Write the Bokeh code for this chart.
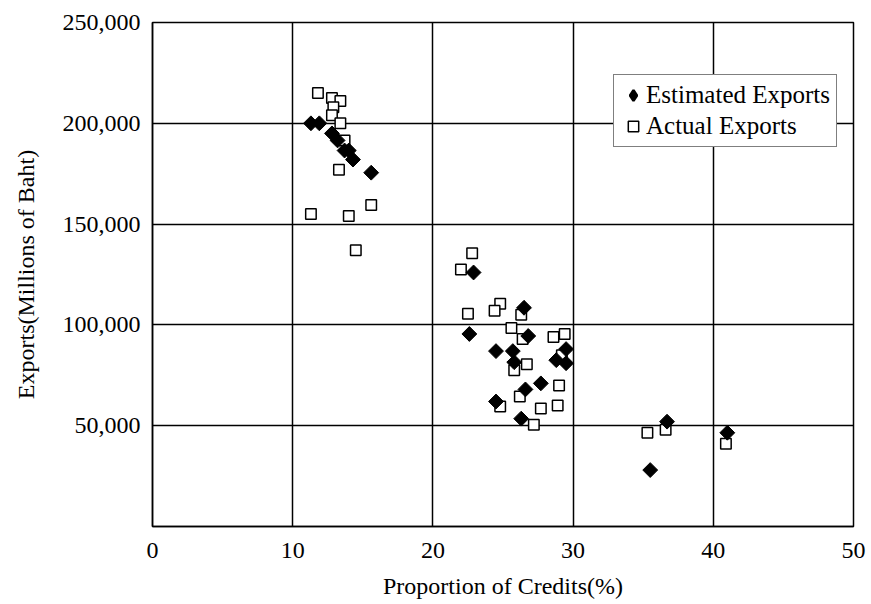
import math
from bokeh.plotting import figure
from bokeh.models import (Legend, LegendItem, FixedTicker, NumeralTickFormatter,
                          Range1d, ColumnDataSource)
from bokeh.embed import file_html
from bokeh.resources import INLINE

# Estimated exports (filled diamonds)
est_credit = [11.3, 11.9, 12.8, 13.2, 13.7, 14.0, 14.3, 15.6,
              22.9, 26.5,
              22.6, 26.8, 24.5, 25.7, 29.5, 28.8, 29.5, 25.8, 27.7, 26.6, 24.5, 26.3,
              36.7, 35.5, 41.0]
est_exports = [200000, 200000, 195000, 191500, 186500, 186500, 182000, 175500,
               126000, 108500,
               95500, 94500, 87000, 87000, 88000, 82500, 81000, 81500, 71000, 68000, 62000, 53500,
               52000, 28000, 46500]

# Actual exports (open squares)
act_credit = [11.8, 12.8, 13.4, 12.9, 12.8, 13.4, 13.7, 13.3,
              11.3, 14.0, 15.6, 14.5,
              22.8, 22.0, 24.8, 24.4, 22.5, 26.3, 25.6,
              26.4, 28.6, 29.4, 29.2, 26.7, 25.8, 29.0, 26.2, 24.8, 27.7, 28.9, 27.2,
              35.3, 36.6, 40.9]
act_exports = [215000, 212500, 211000, 208000, 204000, 200000, 191500, 177000,
               155000, 154000, 159500, 137000,
               135500, 127500, 110500, 107000, 105500, 105000, 98500,
               93000, 94000, 95500, 85000, 80500, 77500, 70000, 64500, 59500, 58500, 60000, 50500,
               46500, 48000, 41000]

x_ticks = [0, 10, 20, 30, 40, 50]
y_ticks = [50000, 100000, 150000, 200000, 250000]

FONT = "Liberation Serif"

p = figure(width=871, height=604, x_range=Range1d(0, 50), y_range=Range1d(0, 250000),
           output_backend="svg", toolbar_location=None,
           min_border_left=152, min_border_right=18, min_border_top=22, min_border_bottom=78)
p.background_fill_color = "white"
p.border_fill_color = "white"
p.outline_line_color = "black"
p.outline_line_width = 1.5

for ax in (p.xaxis[0], p.yaxis[0]):
    ax.major_tick_out = 0
    ax.major_tick_in = 0
    ax.minor_tick_out = 0
    ax.minor_tick_in = 0
    ax.axis_line_color = "black"
    ax.axis_line_width = 1.5
    ax.major_label_text_font = FONT
    ax.major_label_text_font_size = "24px"
    ax.major_label_text_color = "black"
    ax.axis_label_text_font = FONT
    ax.axis_label_text_font_size = "24px"
    ax.axis_label_text_font_style = "normal"
    ax.axis_label_text_color = "black"

p.xaxis.ticker = FixedTicker(ticks=x_ticks)
p.yaxis.ticker = FixedTicker(ticks=y_ticks)
p.yaxis.formatter = NumeralTickFormatter(format="0,0")
p.xaxis.axis_label = "Proportion of Credits(%)"
p.yaxis.axis_label = "Exports(Millions of Baht)"
p.xaxis.major_label_standoff = 16
p.xaxis.axis_label_standoff = 12
p.yaxis.major_label_standoff = 12
p.yaxis.axis_label_standoff = 21

p.xgrid.ticker = FixedTicker(ticks=x_ticks)
p.ygrid.ticker = FixedTicker(ticks=y_ticks)
for g in (p.xgrid[0], p.ygrid[0]):
    g.grid_line_color = "black"
    g.grid_line_width = 1.5
    g.grid_line_alpha = 1.0

act_src = ColumnDataSource(dict(x=act_credit, y=act_exports))
est_src = ColumnDataSource(dict(x=est_credit, y=est_exports))

r_act = p.scatter("x", "y", source=act_src, marker="square", size=10.5,
                  fill_color="white", line_color="black", line_width=1.5)

# legend key for the estimated series (Bokeh legends ignore marker angle);
# drawn small underneath the rotated squares so that it stays hidden in the plot
r_est_key = p.scatter("x", "y", source=est_src, marker="diamond", size=4,
                      fill_color="black", line_color="black", line_width=2.5)
r_est = p.scatter("x", "y", source=est_src, marker="square", size=10.5, angle=math.pi / 4,
                  fill_color="black", line_color="black", line_width=1)

legend = Legend(items=[LegendItem(label="Estimated Exports", renderers=[r_est_key]),
                       LegendItem(label="Actual Exports", renderers=[r_act])],
                location=(461, 379), margin=0, padding=6, spacing=3,
                glyph_width=26, glyph_height=26, label_height=26, label_standoff=0,
                label_text_font=FONT, label_text_font_size="25px", label_text_color="black",
                border_line_color="black", border_line_width=1.5,
                background_fill_color="white", background_fill_alpha=1.0)
p.add_layout(legend)

open("out.html", "w").write(file_html(p, INLINE))
